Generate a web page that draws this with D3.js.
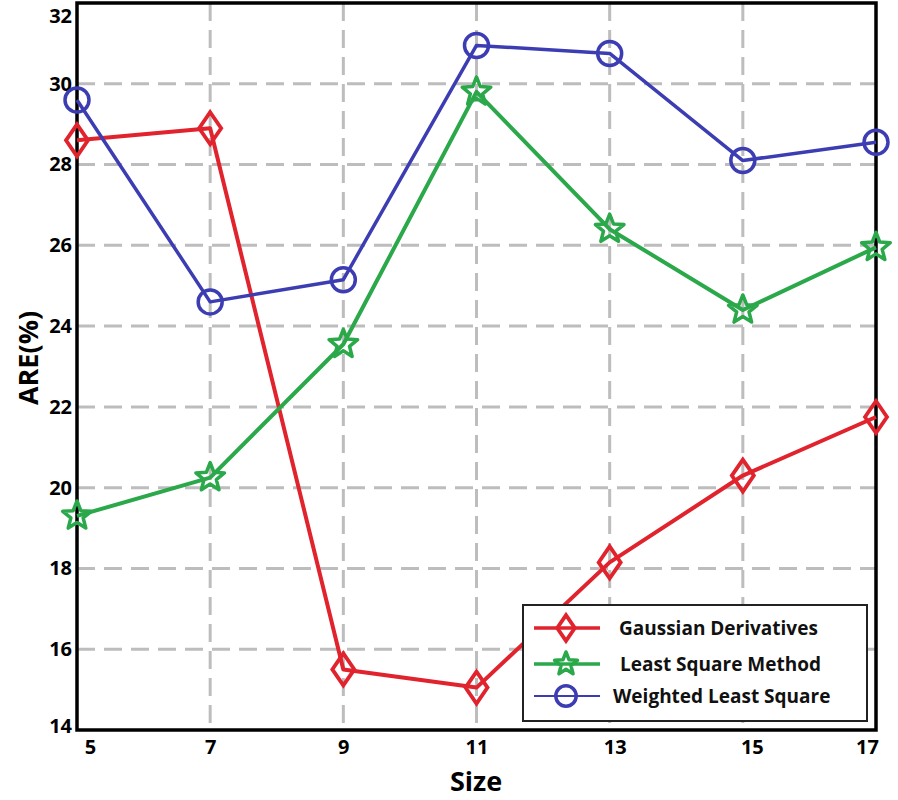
<!DOCTYPE html>
<html><head><meta charset="utf-8">
<script src="https://cdn.jsdelivr.net/npm/d3@7"></script>
<style>body{margin:0;background:#fff}svg{display:block}text{font-family:"Open Sans","DejaVu Sans",sans-serif;font-weight:bold}</style>
</head><body>
<svg id="c" width="898" height="800"></svg>
<script>
const sizes = [5, 7, 9, 11, 13, 15, 17];
const gaussian = [28.6, 28.9, 15.5, 15.05, 18.15, 20.3, 21.75];
const leastSquare = [19.3, 20.25, 23.55, 29.8, 26.4, 24.4, 25.95];
const weightedLS = [29.6, 24.6, 25.15, 30.95, 30.75, 28.1, 28.55];
const yTicks = [14, 16, 18, 20, 22, 24, 26, 28, 30, 32];
const seriesNames = ["Gaussian Derivatives", "Least Square Method", "Weighted Least Square"];

const svg = d3.select("#c");
const x = d3.scaleLinear().domain([5, 17]).range([77, 876]);
const y = d3.scaleLinear().domain([14, 32]).range([730, 3]);

// grid
const grid = svg.append("g").attr("stroke", "#bdbdbd").attr("stroke-width", 3).attr("stroke-dasharray", "18,9");
grid.selectAll("line.h").data(yTicks.filter(d => d > 14 && d < 32)).join("line")
  .attr("x1", x(5)).attr("x2", x(17)).attr("y1", d => y(d)).attr("y2", d => y(d));
grid.selectAll("line.v").data(sizes.filter(d => d > 5 && d < 17)).join("line").attr("class","v")
  .attr("y1", y(32)).attr("y2", y(14)).attr("x1", d => x(d)).attr("x2", d => x(d));

// frame
svg.append("rect").attr("x", x(5)).attr("y", y(32)).attr("width", x(17) - x(5)).attr("height", y(14) - y(32))
  .attr("fill", "none").attr("stroke", "#000").attr("stroke-width", 3.5);

// axes
const xAxis = d3.axisBottom(x).tickValues(sizes).tickSize(0).tickPadding(10);
const gx = svg.append("g").attr("transform", `translate(0,${y(14)})`).call(xAxis);
gx.select(".domain").remove();
gx.selectAll("text").attr("font-size", 20).attr("fill", "#000")
  .attr("dx", d => d === 5 ? 13 : d === 17 ? -9 : (d === 13 ? 5 : (d === 15 ? 9 : 0)));
const yAxis = d3.axisLeft(y).tickValues(yTicks).tickSize(0).tickPadding(5);
const gy = svg.append("g").attr("transform", `translate(${x(5)},0)`).call(yAxis);
gy.select(".domain").remove();
gy.selectAll("text").attr("font-size", 20).attr("fill", "#000")
  .attr("dy", d => d === 32 ? "0.95em" : d === 14 ? "0.1em" : "0.32em");

svg.append("text").attr("x", 476).attr("y", 791).attr("text-anchor", "middle").attr("font-size", 27).text("Size");
svg.append("text").attr("transform", "translate(38,358) rotate(-90)").attr("text-anchor", "middle").attr("font-size", 27).text("ARE(%)");

const colors = ["#e0232d", "#2aa84a", "#3c3db3"];
const data = [gaussian, leastSquare, weightedLS];
const line = d3.line().x((d, i) => x(sizes[i])).y(d => y(d));

function starPath(r1, r2) {
  const pts = [];
  for (let i = 0; i < 10; i++) {
    const a = -Math.PI / 2 + i * Math.PI / 5;
    const r = i % 2 ? r2 : r1;
    pts.push([r * Math.cos(a), r * Math.sin(a)]);
  }
  return "M" + pts.map(p => p.join(",")).join("L") + "Z";
}
const diamond = "M0,-16L11,0L0,16L-11,0Z";
function drawMarker(g, k, cx, cy, scale) {
  scale = scale || 1;
  if (k === 0) {
    g.append("path").attr("d", diamond).attr("transform", `translate(${cx},${cy}) scale(${scale})`)
      .attr("fill", "none").attr("stroke", colors[0]).attr("stroke-width", 3.8 / scale);
  } else if (k === 1) {
    g.append("path").attr("d", starPath(15, 6.5)).attr("transform", `translate(${cx},${cy}) scale(${scale})`)
      .attr("fill", "none").attr("stroke", colors[1]).attr("stroke-width", 3.5 / scale).attr("stroke-linejoin", "round");
  } else {
    g.append("circle").attr("cx", cx).attr("cy", cy).attr("r", 12 * scale)
      .attr("fill", "none").attr("stroke", colors[2]).attr("stroke-width", 3.5);
  }
}

data.forEach((vals, k) => {
  const g = svg.append("g");
  g.append("path").datum(vals).attr("d", line).attr("fill", "none")
    .attr("stroke", colors[k]).attr("stroke-width", k === 2 ? 3.5 : 4).attr("stroke-linejoin", "round");
  vals.forEach((v, i) => drawMarker(g, k, x(sizes[i]), y(v)));
});

// legend
const lg = svg.append("g");
lg.append("rect").attr("x", 523).attr("y", 605).attr("width", 344).attr("height", 116)
  .attr("fill", "#fff").attr("stroke", "#222").attr("stroke-width", 2);
const rows = [628, 664, 696];
const textX = [619, 620, 613];
seriesNames.forEach((name, k) => {
  lg.append("line").attr("x1", 534).attr("x2", 600).attr("y1", rows[k]).attr("y2", rows[k])
    .attr("stroke", colors[k]).attr("stroke-width", k === 2 ? 2 : 3.5);
  drawMarker(lg, k, 566, rows[k], k === 2 ? 0.85 : 0.8);
  lg.append("text").attr("x", textX[k]).attr("y", rows[k]).attr("dy", "0.35em")
    .attr("font-size", 19).attr("fill", "#111").text(name);
});
</script>
</body></html>
